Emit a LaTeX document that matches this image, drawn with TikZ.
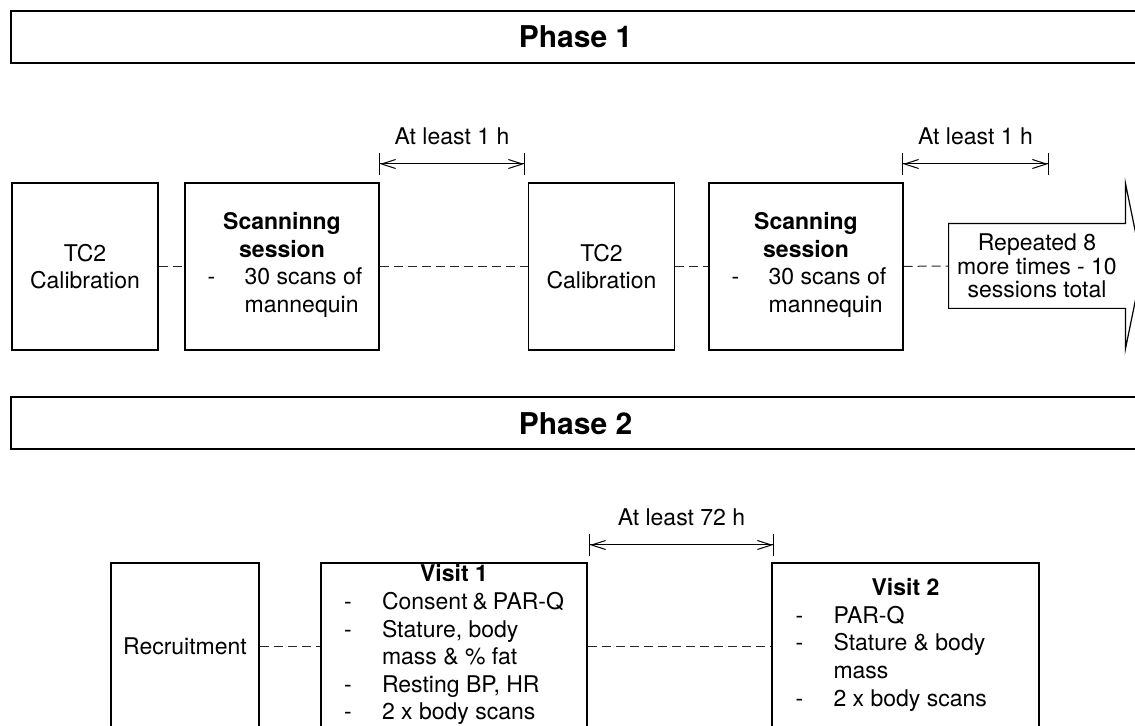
\documentclass[tikz,border=0pt]{standalone}
\usepackage{fontspec}
\setmainfont{TeX Gyre Heros}
\usepackage{tikz}
\usetikzlibrary{arrows.meta}

\begin{document}
\begin{tikzpicture}[x=0.5pt,y=-0.5pt,font=\fontsize{11.5pt}{13.8pt}\selectfont,
	phase/.style={draw,line width=1pt,minimum width=564.5pt,minimum height=26pt,inner sep=0pt,font=\fontsize{15pt}{18pt}\selectfont\bfseries},
	box/.style={draw,line width=0.6pt,minimum height=83.5pt,inner sep=0pt,align=center},
	link/.style={draw=black!85,line width=0.5pt,dash pattern=on 4.5pt off 2.5pt},
	gap/.style={line width=0.5pt,{Bar[width=11pt,sep=0pt]Straight Barb[length=7pt,width=4.5pt,sep=0pt]}-{Straight Barb[length=7pt,width=4.5pt,sep=0pt]Bar[width=11pt,sep=0pt]}},
	gaplabel/.style={midway,above=6.5pt,inner sep=3pt}]
				\useasboundingbox (0,0) rectangle (1135,726);
				\node[phase] (ph1) at (575.5,37) {Phase 1};
				\node[phase] (ph2) at (575.5,423.5) {Phase 2};
				\node[box,minimum width=73pt] (tc1) at (85,266.5) {TC2\\Calibration};
				\node[box,minimum width=97pt] (scan1) at (282,266.5) {\textbf{Scanninng}\\\textbf{session}\\\begin{tabular}[t]{@{\hspace{3pt}}p{18.5pt}@{}l@{}}-&30 scans of\\&mannequin\end{tabular}};
				\node[box,minimum width=73pt] (tc2) at (601.5,266.5) {TC2\\Calibration};
				\node[box,minimum width=97pt] (scan2) at (806,266.5) {\textbf{Scanning}\\\textbf{session}\\\begin{tabular}[t]{@{\hspace{3pt}}p{18.5pt}@{}l@{}}-&30 scans of\\&mannequin\end{tabular}};
				\node[inner sep=0pt,minimum width=88pt,minimum height=42pt,align=center,font=\fontsize{11.5pt}{11.75pt}\selectfont] (rep) at (1037,266) {Repeated 8\\more times - 10\\sessions total};
				\draw[line width=0.6pt,line join=miter] (rep.north west) -- (rep.north east) -- ++(0,-40.5) -- ++(17,83) -- ++(-17,83) -- (rep.south east) -- (rep.south west) -- cycle;
				\draw[link] (tc1) -- (scan1);
				\draw[link] (scan1) -- (tc2);
				\draw[link] (tc2) -- (scan2);
				\draw[link] (scan2) -- (rep);
				\coordinate (g1a) at (379,164);
				\coordinate (g1b) at (525,164);
				\coordinate (g2a) at (902,164);
				\coordinate (g2b) at (1049,164);
				\draw[gap] (g1a) -- node[gaplabel] {At least 1 h} (g1b);
				\draw[gap] (g2a) -- node[gaplabel] {At least 1 h} (g2b);
				\node[box,minimum width=74pt] (recr) at (185,646.5) {Recruitment};
				\node[box,minimum width=133pt] (vis1) at (454,646.5) {\textbf{Visit 1}\\\begin{tabular}[t]{@{}p{19pt}@{}p{91pt}@{}}-&Consent \& PAR-Q\\-&Stature, body\\&mass \& \% fat\\-&Resting BP, HR\\-&2 x body scans\end{tabular}};
				\node[box,minimum width=133.5pt] (vis2) at (905.5,646.5) {\textbf{Visit 2}\\\begin{tabular}[t]{@{}p{19pt}@{}p{91pt}@{}}-&PAR-Q\\-&Stature \& body\\&mass\\-&2 x body scans\end{tabular}};
				\draw[link] (recr) -- (vis1);
				\draw[link] (vis1) -- (vis2);
				\coordinate (g3a) at (589,545);
				\coordinate (g3b) at (774,545);
				\draw[gap] (g3a) -- node[gaplabel] {At least 72 h} (g3b);
			\end{tikzpicture}
\end{document}
